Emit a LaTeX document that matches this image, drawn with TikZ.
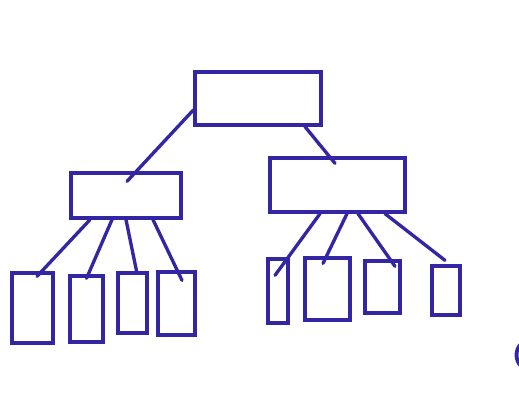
\documentclass[tikz,border=0pt]{standalone}
\definecolor{pen}{RGB}{50,38,165}
\begin{document}
\begin{tikzpicture}[x=0.02cm,y=-0.02cm,
  box/.style={draw=pen,line width=1.9pt,rectangle,inner sep=0pt},
  link/.style={draw=pen,line width=1.9pt,line cap=round}]
\useasboundingbox[fill=white] (0,0) rectangle (519,400);
% top level
\node[box,minimum width=2.52cm,minimum height=1.06cm] (top) at (258,98.5) {};
% middle level
\node[box,minimum width=2.2cm,minimum height=0.9cm] (lm) at (126,195.5) {};
\node[box,minimum width=2.7cm,minimum height=1.08cm] (rm) at (337.5,185) {};
% leaves left
\node[box,minimum width=0.82cm,minimum height=1.4cm] (l1) at (32.5,308) {};
\node[box,minimum width=0.66cm,minimum height=1.32cm] (l2) at (86.5,309) {};
\node[box,minimum width=0.58cm,minimum height=1.2cm] (l3) at (132.5,303) {};
\node[box,minimum width=0.74cm,minimum height=1.26cm] (l4) at (176.5,303.5) {};
% leaves right
\node[box,minimum width=0.4cm,minimum height=1.28cm] (r1) at (278,291) {};
\node[box,minimum width=0.9cm,minimum height=1.24cm] (r2) at (327.5,289) {};
\node[box,minimum width=0.7cm,minimum height=1.04cm] (r3) at (382.5,287) {};
\node[box,minimum width=0.56cm,minimum height=0.98cm] (r4) at (446,290.5) {};
% connectors
\draw[link] ([yshift=-0.23cm]top.west) -- ([xshift=0.02cm,yshift=-0.2cm]lm.north);
\draw[link] ([xshift=0.94cm]top.south) -- ([xshift=-0.05cm,yshift=-0.14cm]rm.north);
\draw[link] ([xshift=-0.72cm]lm.south) -- ([xshift=0.09cm,yshift=-0.1cm]l1.north);
\draw[link] ([xshift=-0.28cm]lm.south) -- ([yshift=-0.08cm]l2.north);
\draw[link] (lm.south) -- ([xshift=0.09cm,yshift=-0.04cm]l3.north);
\draw[link] ([xshift=0.54cm]lm.south) -- ([xshift=0.11cm,yshift=-0.2cm]l4.north);
\draw[link] ([xshift=-0.35cm]rm.south) -- ([xshift=-0.06cm,yshift=-0.36cm]r1.north);
\draw[link] ([xshift=0.19cm]rm.south) -- ([xshift=-0.09cm,yshift=-0.14cm]r2.north);
\draw[link] ([xshift=0.41cm]rm.south) -- ([xshift=0.25cm,yshift=-0.14cm]r3.north);
\draw[link] ([xshift=0.95cm]rm.south) -- ([xshift=-0.02cm,yshift=0.08cm]r4.north);
% stray mark at right edge
\draw[pen,line width=2.2pt] (521,344) .. controls (515,350) and (515,360) .. (521,366);
\end{tikzpicture}
\end{document}
